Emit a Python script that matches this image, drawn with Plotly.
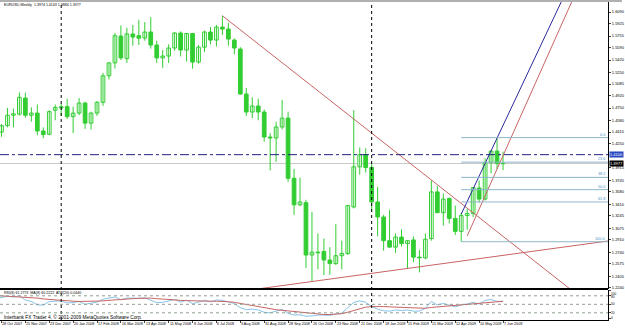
import pandas as pd
import plotly.graph_objects as go

# ---------------- data ----------------
weeks = pd.date_range('2007-10-21', periods=86, freq='7D')

opens = [1.4290, 1.4415, 1.4505, 1.4650, 1.4665, 1.4890, 1.4650, 1.4680, 1.4430, 1.4385,
         1.4720, 1.4750, 1.4770, 1.4630, 1.4680, 1.4820, 1.4540, 1.4680, 1.4830, 1.5200,
         1.5380, 1.5755, 1.5440, 1.5783, 1.5760, 1.5727, 1.5811, 1.5630, 1.5450, 1.5476,
         1.5588, 1.5797, 1.5560, 1.5790, 1.5392, 1.5600, 1.5811, 1.5699, 1.5880, 1.5853,
         1.5699, 1.5574, 1.4946, 1.4695, 1.4779, 1.4695, 1.4346, 1.4332, 1.4486, 1.4610,
         1.3770, 1.3400, 1.3430, 1.2700, 1.2740, 1.2750, 1.2630, 1.2580, 1.2690, 1.2720,
         1.3370, 1.3930, 1.4100, 1.3920, 1.3440, 1.3230, 1.2900, 1.2810, 1.2950, 1.2860,
         1.2910, 1.2670, 1.2660, 1.2930, 1.3580, 1.3290, 1.3490, 1.3210, 1.3030, 1.3250,
         1.3280, 1.3635, 1.3480, 1.3990, 1.4150, 1.3974]
highs = [1.4430, 1.4527, 1.4752, 1.4742, 1.4967, 1.4965, 1.4760, 1.4800, 1.4480, 1.4720,
         1.4800, 1.4810, 1.4880, 1.4770, 1.4890, 1.4840, 1.4700, 1.4850, 1.5240, 1.5390,
         1.5797, 1.5903, 1.5870, 1.5909, 1.5980, 1.5950, 1.6019, 1.5690, 1.5560, 1.5640,
         1.5810, 1.5820, 1.5800, 1.5800, 1.5630, 1.5830, 1.5880, 1.5910, 1.6038, 1.5940,
         1.5720, 1.5600, 1.5030, 1.4900, 1.4880, 1.4730, 1.4400, 1.4560, 1.4865, 1.4700,
         1.3900, 1.3780, 1.3470, 1.3300, 1.3000, 1.2930, 1.2810, 1.3130, 1.2900, 1.3400,
         1.4720, 1.4200, 1.4190, 1.3970, 1.3650, 1.3260, 1.3330, 1.3000, 1.3060, 1.2900,
         1.2960, 1.2770, 1.3000, 1.3740, 1.3660, 1.3560, 1.3500, 1.3390, 1.3290, 1.3340,
         1.3650, 1.3740, 1.4050, 1.4160, 1.4338, 1.4143]
lows = [1.4160, 1.4350, 1.4480, 1.4480, 1.4645, 1.4615, 1.4560, 1.4370, 1.4330, 1.4370,
        1.4580, 1.4640, 1.4600, 1.4400, 1.4650, 1.4460, 1.4450, 1.4640, 1.4780, 1.5150,
        1.5300, 1.5420, 1.5380, 1.5620, 1.5630, 1.5690, 1.5580, 1.5380, 1.5310, 1.5380,
        1.5550, 1.5470, 1.5400, 1.5300, 1.5370, 1.5530, 1.5640, 1.5610, 1.5770, 1.5620,
        1.5500, 1.4935, 1.4640, 1.4610, 1.4580, 1.4280, 1.3880, 1.4000, 1.4450, 1.3720,
        1.3260, 1.3380, 1.2520, 1.2330, 1.2500, 1.2420, 1.2425, 1.2560, 1.2500, 1.2700,
        1.3350, 1.3820, 1.3850, 1.3300, 1.2960, 1.2760, 1.2800, 1.2730, 1.2820, 1.2510,
        1.2600, 1.2457, 1.2640, 1.2900, 1.3300, 1.3110, 1.3140, 1.2980, 1.2885, 1.3050,
        1.3230, 1.3430, 1.3460, 1.3840, 1.3900, 1.3884]
closes = [1.4415, 1.4503, 1.4650, 1.4670, 1.4900, 1.4650, 1.4680, 1.4430, 1.4380, 1.4700,
          1.4760, 1.4770, 1.4630, 1.4680, 1.4820, 1.4540, 1.4680, 1.4830, 1.5200, 1.5380,
          1.5760, 1.5450, 1.5785, 1.5741, 1.5725, 1.5811, 1.5630, 1.5450, 1.5476, 1.5588,
          1.5797, 1.5560, 1.5790, 1.5392, 1.5600, 1.5811, 1.5699, 1.5880, 1.5853, 1.5713,
          1.5588, 1.4946, 1.4695, 1.4779, 1.4695, 1.4346, 1.4332, 1.4486, 1.4610, 1.3770,
          1.3400, 1.3440, 1.2700, 1.2740, 1.2730, 1.2630, 1.2580, 1.2690, 1.2720, 1.3390,
          1.3930, 1.4100, 1.3920, 1.3440, 1.3230, 1.2900, 1.2810, 1.2950, 1.2860, 1.2900,
          1.2670, 1.2660, 1.2920, 1.3580, 1.3290, 1.3480, 1.3210, 1.3030, 1.3250, 1.3280,
          1.3640, 1.3480, 1.3990, 1.4150, 1.3975, 1.3977]

rsi = [70, 74, 78, 76, 80, 65, 60, 48, 47, 60,
       62, 62, 55, 56, 60, 50, 54, 58, 68, 72,
       76, 66, 72, 72, 71, 73, 64, 56, 57, 61,
       67, 58, 65, 52, 58, 64, 59, 65, 64, 58,
       53, 38, 31, 33, 30, 22, 20, 26, 32, 18,
       12, 13, 8, 9, 12, 12, 11, 16, 19, 38,
       57, 62, 57, 42, 33, 27, 26, 30, 28, 30,
       26, 26, 36, 60, 48, 53, 46, 41, 48, 51,
       57, 51, 64, 67, 60, 61.28]
rsi_ma = [81, 80, 79, 78, 77, 76, 74, 72, 69, 67,
          65, 63, 62, 61, 60, 60, 60, 61, 62, 64,
          66, 67, 69, 70, 71, 72, 72, 70, 68, 66,
          65, 64, 63, 62, 62, 62, 61, 61, 61, 59,
          57, 53, 49, 45, 41, 37, 34, 31, 29, 27,
          25, 22, 19, 17, 15, 14, 14, 15, 17, 22,
          28, 35, 40, 42, 43, 42, 41, 40, 38, 37,
          36, 35, 36, 39, 41, 43, 44, 45, 47, 49,
          51, 53, 55, 57, 59, 60.22]

price_ticks = [1.6090, 1.5925, 1.5755, 1.5590, 1.5420, 1.5250, 1.5085, 1.4920, 1.4750,
               1.4580, 1.4415, 1.4250, 1.3915, 1.3745, 1.3580, 1.3410, 1.3245,
               1.3075, 1.2910, 1.2740, 1.2575, 1.2405, 1.2240]
rsi_ticks = [0, 20, 50, 80, 100]

# drawing objects (anchors in date / price)
trend_down = (['2008-07-13', '2009-06-07'], [1.6038, 1.2960])
trend_up = (['2008-10-26', '2009-06-07'], [1.2330, 1.2695])
chan_blue = (['2009-04-19', '2009-06-07'], [1.3270, 1.4508])
chan_red = (['2009-04-26', '2009-06-07'], [1.2966, 1.4086])
fib_start, fib_low, fib_high = '2009-04-19', 1.2885, 1.4338
fib_levels = [0.0, 23.6, 38.2, 50.0, 61.8, 100.0]
hline_price = 1.4100
bid_price = 1.3977
separators = ['2008-01-06', '2009-01-04']

title_text = 'EURUSD,Weekly  1.3974 1.4143 1.3884 1.3977'
ind_text = 'RSI(8) 61.2773  MA(8) 60.2222  ATR(20) 0.0440'
copy_text = 'Interbank FX Trader 4, \u00a9 2001-2009 MetaQuotes Software Corp.'

# ---------------- layout constants ----------------
W, H = 625, 328
ML, MR, MT, MB = 0, 14, 2, 8
PW = W - ML - MR
PH = H - MT - MB
px_week = 6.0
start = pd.Timestamp('2007-10-28')
x_left = start - pd.Timedelta(days=7 * 1.5 / px_week)
x_right = start + pd.Timedelta(days=7 * (PW - 1.5) / px_week)
main_bottom = (H - MB - 289) / PH
sub_top = (H - MB - 290) / PH

GREEN = '#32CD32'
FONT = 'Liberation Sans, Arial, sans-serif'

fig = go.Figure()

# wicks
wx, wy = [], []
for d, lo, hi in zip(weeks, lows, highs):
    wx += [d, d, None]
    wy += [lo, hi, None]
fig.add_trace(go.Scatter(x=wx, y=wy, mode='lines', line=dict(color=GREEN, width=1),
                         hoverinfo='skip', xaxis='x', yaxis='y'))

# bodies
base = [min(o, c) for o, c in zip(opens, closes)]
height = [max(abs(c - o), 0.0002) for o, c in zip(opens, closes)]
fills = ['white' if c >= o else GREEN for o, c in zip(opens, closes)]
fig.add_trace(go.Bar(x=weeks, y=height, base=base, width=7 * 86400000 * 0.62,
                     marker=dict(color=fills, line=dict(color=GREEN, width=1)),
                     xaxis='x', yaxis='y'))


def extend(anchor, x_from, x_end):
    (d1, d2), (p1, p2) = anchor
    t1, t2 = pd.Timestamp(d1), pd.Timestamp(d2)
    slope = (p2 - p1) / (t2 - t1).days
    return [x_from, x_end], [p1 + slope * (x_from - t1).days, p1 + slope * (x_end - t1).days]


xe = x_right + pd.Timedelta(days=60)
for anc, col in [(trend_down, '#C86464'), (chan_blue, '#2A2A9A'), (chan_red, '#C86464')]:
    xs, ys = extend(anc, pd.Timestamp(anc[0][0]), xe)
    fig.add_trace(go.Scatter(x=xs, y=ys, mode='lines', line=dict(color=col, width=1),
                             hoverinfo='skip', xaxis='x', yaxis='y'))
xs, ys = extend(trend_up, pd.Timestamp('2008-06-01'), xe)
fig.add_trace(go.Scatter(x=xs, y=ys, mode='lines', line=dict(color='#C86464', width=1),
                         hoverinfo='skip', xaxis='x', yaxis='y'))

# fibonacci levels
FIB = '#8DB6CD'
for lv in fib_levels:
    p = fib_high - (fib_high - fib_low) * lv / 100
    fig.add_trace(go.Scatter(x=[pd.Timestamp(fib_start), x_right], y=[p, p], mode='lines',
                             line=dict(color=FIB, width=1), hoverinfo='skip',
                             xaxis='x', yaxis='y'))
    fig.add_annotation(x=1, xref='paper', y=p, yref='y', text='%.1f' % lv, showarrow=False,
                       xanchor='right', yanchor='bottom', xshift=-1, yshift=-1,
                       font=dict(family=FONT, size=3.8, color='#4A90C8'))

# rsi
fig.add_trace(go.Scatter(x=weeks, y=rsi, mode='lines', line=dict(color='#87C4E8', width=1),
                         xaxis='x', yaxis='y2', hoverinfo='skip'))
fig.add_trace(go.Scatter(x=weeks, y=rsi_ma, mode='lines', line=dict(color='#C86464', width=1),
                         xaxis='x', yaxis='y2', hoverinfo='skip'))

shapes = []
shapes.append(dict(type='line', xref='paper', x0=0, x1=1, yref='y', y0=bid_price, y1=bid_price,
                   line=dict(color='#C8C8C8', width=1), layer='below'))
shapes.append(dict(type='line', xref='paper', x0=0, x1=1, yref='y', y0=hline_price, y1=hline_price,
                   line=dict(color='#202080', width=1, dash='dashdot')))
for s in separators:
    shapes.append(dict(type='line', xref='x', x0=s, x1=s, yref='paper', y0=0, y1=1,
                       line=dict(color='black', width=1, dash='dot')))
for lv in [20, 50, 80]:
    shapes.append(dict(type='line', xref='paper', x0=0, x1=1, yref='y2', y0=lv, y1=lv,
                       line=dict(color='#90A090', width=1, dash='dot')))
shapes.append(dict(type='line', xref='paper', x0=0, x1=1, yref='paper', y0=main_bottom, y1=main_bottom,
                   line=dict(color='black', width=2)))
shapes.append(dict(type='line', xref='paper', x0=0, x1=W / PW, yref='paper', y0=1 + 1 / PH, y1=1 + 1 / PH,
                   line=dict(color='#B0B0B0', width=2)))

# date labels
label_dates = [d for d in weeks if d >= start][::4]
for d in label_dates:
    fig.add_annotation(x=d, xref='x', y=-(324 - (H - MB)) / PH, yref='paper',
                       text='%d %s' % (d.day, d.strftime('%b %Y')), showarrow=False,
                       xanchor='left', yanchor='middle', xshift=-1,
                       font=dict(family=FONT, size=3.7, color='black'))

# rsi scale labels (placed as text so they do not collide in the thin pane)
rsi_label_anchor = {100: ('top', -0.7), 80: ('middle', -1.5), 50: ('middle', 0),
                    20: ('middle', 0), 0: ('middle', 0.5)}
for v in rsi_ticks:
    ya, ys_ = rsi_label_anchor[v]
    fig.add_annotation(x=1, xref='paper', y=v, yref='y2', text=str(v),
                       showarrow=False, xanchor='left', yanchor=ya, xshift=2,
                       yshift=ys_, borderpad=0,
                       font=dict(family=FONT, size=3.2, color='black'))

# price boxes
fig.add_annotation(x=1, xref='paper', y=hline_price, yref='y', text='%.4f' % hline_price,
                   showarrow=False, xanchor='left', xshift=1, bgcolor='#2848C0',
                   font=dict(family=FONT, size=4, color='white'), borderpad=0)
fig.add_annotation(x=1, xref='paper', y=bid_price, yref='y', text='%.4f' % bid_price,
                   showarrow=False, xanchor='left', xshift=1, bgcolor='black',
                   font=dict(family=FONT, size=4, color='white'), borderpad=0)

# texts
fig.add_annotation(x=2 / PW, xref='paper', y=(H - MB - 5) / PH, yref='paper', text=title_text,
                   showarrow=False, xanchor='left', yanchor='middle',
                   font=dict(family=FONT, size=3.6, color='black'))
fig.add_annotation(x=2 / PW, xref='paper', y=(H - MB - 293) / PH, yref='paper', text=ind_text,
                   showarrow=False, xanchor='left', yanchor='middle',
                   font=dict(family=FONT, size=3.6, color='black'))
fig.add_annotation(x=2 / PW, xref='paper', y=(H - MB - 317) / PH, yref='paper', text=copy_text,
                   showarrow=False, xanchor='left', yanchor='middle',
                   font=dict(family=FONT, size=4.8, color='black'))

fig.update_layout(
    width=W, height=H, margin=dict(l=ML, r=MR, t=MT, b=MB),
    paper_bgcolor='white', plot_bgcolor='white', showlegend=False,
    barmode='overlay', shapes=shapes,
    xaxis=dict(type='date', range=[x_left, x_right], anchor='y2', showline=True,
               linecolor='black', linewidth=1, ticks='outside', ticklen=2,
               tickvals=label_dates, showticklabels=False, showgrid=False, zeroline=False),
    yaxis=dict(domain=[main_bottom, 1], range=[1.22256, 1.6230], side='right', anchor='x',
               showline=True, linecolor='black', linewidth=1, ticks='outside', ticklen=2,
               tickvals=price_ticks, ticktext=['%.4f' % v for v in price_ticks],
               tickfont=dict(family=FONT, size=4, color='black'), showgrid=False, zeroline=False),
    yaxis2=dict(domain=[0, sub_top], range=[-5.3, 100.5], side='right', anchor='x',
                showline=True, linecolor='black', linewidth=1, ticks='outside', ticklen=2,
                tickvals=rsi_ticks, showticklabels=False, showgrid=False, zeroline=False),
)

fig.write_html('out.html')
